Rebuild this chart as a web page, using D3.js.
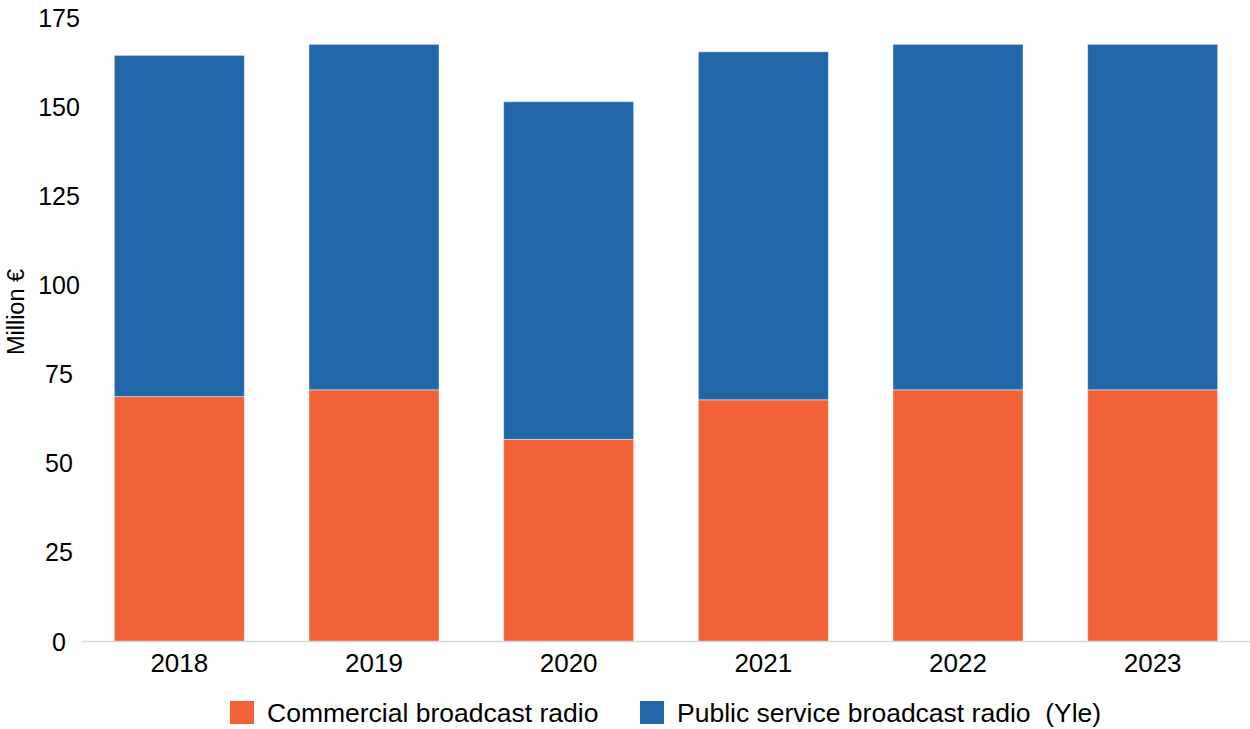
<!DOCTYPE html>
<html>
<head>
<meta charset="utf-8">
<script src="https://cdn.jsdelivr.net/npm/d3@7"></script>
<style>
  html, body { margin: 0; padding: 0; background: #ffffff; }
  svg { display: block; font-family: "Liberation Sans", Arial, sans-serif; }
</style>
</head>
<body>
<svg id="chart" width="1250" height="729"></svg>
<script>
// Radio revenue, million euros
const years = ["2018", "2019", "2020", "2021", "2022", "2023"];
const commercial = [68.7, 70.6, 56.7, 67.8, 70.6, 70.6];
const publicService = [95.7, 96.9, 94.7, 97.6, 96.9, 96.9];
const seriesNames = ["Commercial broadcast radio", "Public service broadcast radio  (Yle)"];
const seriesColors = ["#F26237", "#2166A9"];
const yTicks = [0, 25, 50, 75, 100, 125, 150, 175];

const svg = d3.select("#chart");

const rows = years.map((y, i) => ({ year: y, commercial: commercial[i], publicService: publicService[i] }));
const stack = d3.stack().keys(["commercial", "publicService"]);
const layers = stack(rows);

const x = d3.scaleBand().domain(years).range([82, 1250]).paddingInner(0.332).paddingOuter(0.166);
const y = d3.scaleLinear().domain([0, 175]).range([641.5, 17.6]);

// y tick labels (no gridlines)
svg.append("g")
  .selectAll("text")
  .data(yTicks)
  .join("text")
  .attr("x", 59)
  .attr("y", d => y(d))
  .attr("dy", "0.36em")
  .attr("text-anchor", "middle")
  .attr("font-size", 25)
  .attr("fill", "#000")
  .text(d => d);

// axis title
svg.append("text")
  .attr("transform", "translate(24,312) rotate(-90)")
  .attr("text-anchor", "middle")
  .attr("font-size", 23.5)
  .attr("fill", "#000")
  .text("Million €");

// stacked bars
svg.append("g")
  .selectAll("g")
  .data(layers)
  .join("g")
  .attr("fill", (d, i) => seriesColors[i])
  .selectAll("rect")
  .data(d => d)
  .join("rect")
  .attr("x", d => x(d.data.year))
  .attr("y", d => y(d[1]))
  .attr("width", x.bandwidth())
  .attr("height", d => y(d[0]) - y(d[1]))
  .attr("stroke", "rgba(255,255,255,0.45)")
  .attr("stroke-width", 1);

// baseline
svg.append("line")
  .attr("x1", 82).attr("x2", 1250)
  .attr("y1", y(0)).attr("y2", y(0))
  .attr("stroke", "#d9d9d9")
  .attr("stroke-width", 1.5);

// category labels
svg.append("g")
  .selectAll("text")
  .data(years)
  .join("text")
  .attr("x", d => x(d) + x.bandwidth() / 2)
  .attr("y", 672)
  .attr("text-anchor", "middle")
  .attr("font-size", 26)
  .attr("fill", "#000")
  .text(d => d);

// legend
const legendX = [230, 640];
const legend = svg.append("g")
  .selectAll("g")
  .data(seriesNames)
  .join("g")
  .attr("transform", (d, i) => `translate(${legendX[i]},701)`);
legend.append("rect")
  .attr("width", 24).attr("height", 23)
  .attr("fill", (d, i) => seriesColors[i]);
legend.append("text")
  .attr("x", 37)
  .attr("y", 20.5)
  .attr("font-size", 26.5)
  .attr("fill", "#000")
  .style("white-space", "pre")
  .text(d => d);
</script>
</body>
</html>
